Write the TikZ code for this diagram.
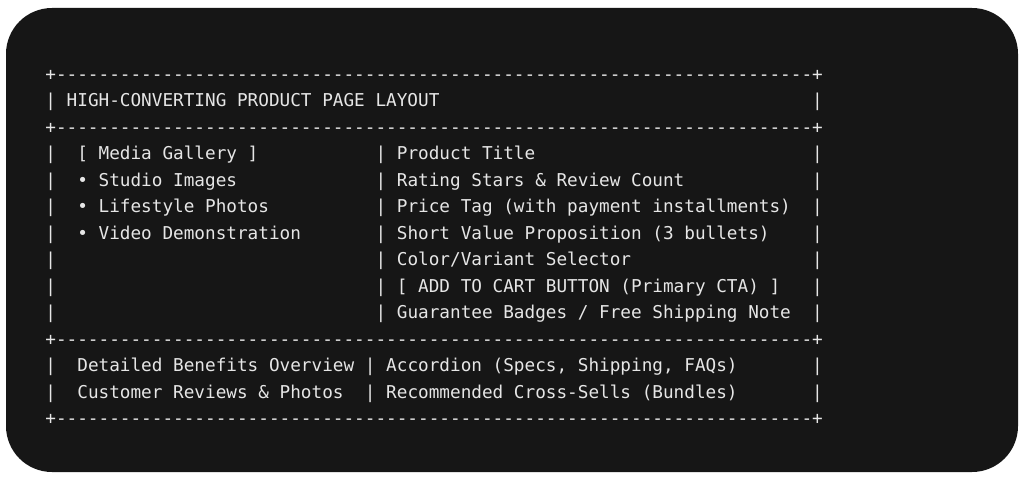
\documentclass[tikz,border=0pt]{standalone}
\usepackage{fontspec}
\setmonofont{DejaVu Sans Mono}
\definecolor{bgdark}{HTML}{161616}
\definecolor{ink}{HTML}{E6E6E6}
\newcommand\tendash{----------}
\newcommand\borderline{+\tendash\tendash\tendash\tendash\tendash\tendash\tendash-+}
\begin{document}
\begin{tikzpicture}[x=1pt,y=-1pt,
  txt/.style={anchor=base west, inner sep=0pt, outer sep=0pt, text=ink,
    font=\ttfamily\fontsize{17.69}{20}\selectfont}]
\def\cw{10.65}
\def\xo{45.4}
\useasboundingbox (0,0) rectangle (1024,478);
\fill[white] (0,0) rectangle (1024,478);
\fill[bgdark, rounded corners=46pt] (6,8) rectangle (1018,472);
% borders
\node[txt] (top)  at (\xo,80.3)  {\borderline};
\node[txt] (sep1) at (\xo,133.3) {\borderline};
\node[txt] (sep2) at (\xo,345.3) {\borderline};
\node[txt] (bot)  at (\xo,424.8) {\borderline};
% title row
\node[txt] (tl) at (\xo,106.8) {|};
\node[txt] (title) at ({\xo+2*\cw},106.8) {HIGH-CONVERTING PRODUCT PAGE LAYOUT};
\node[txt] (tr) at ({\xo+72*\cw},106.8) {|};
% middle section bars
\foreach \i/\yy in {1/159.8,2/186.3,3/212.8,4/239.3,5/265.8,6/292.3,7/318.8}{
  \node[txt] (ml\i) at (\xo,\yy) {|};
  \node[txt] (mm\i) at ({\xo+31*\cw},\yy) {|};
  \node[txt] (mr\i) at ({\xo+72*\cw},\yy) {|};
}
% left column
\node[txt] (gal)  at ({\xo+3*\cw},159.8) {[ Media Gallery ]};
\node[txt] (stu)  at ({\xo+3*\cw},186.3) {• Studio Images};
\node[txt] (life) at ({\xo+3*\cw},212.8) {• Lifestyle Photos};
\node[txt] (vid)  at ({\xo+3*\cw},239.3) {• Video Demonstration};
% right column
\node[txt] (pt)   at ({\xo+33*\cw},159.8) {Product Title};
\node[txt] (rs)   at ({\xo+33*\cw},186.3) {Rating Stars \& Review Count};
\node[txt] (pr)   at ({\xo+33*\cw},212.8) {Price Tag (with payment installments)};
\node[txt] (svp)  at ({\xo+33*\cw},239.3) {Short Value Proposition (3 bullets)};
\node[txt] (col)  at ({\xo+33*\cw},265.8) {Color/Variant Selector};
\node[txt] (cta)  at ({\xo+33*\cw},292.3) {[ ADD TO CART BUTTON (Primary CTA) ]};
\node[txt] (gua)  at ({\xo+33*\cw},318.8) {Guarantee Badges / Free Shipping Note};
% bottom section
\foreach \i/\yy in {1/371.8,2/398.3}{
  \node[txt] (bl\i) at (\xo,\yy) {|};
  \node[txt] (bm\i) at ({\xo+30*\cw},\yy) {|};
  \node[txt] (br\i) at ({\xo+72*\cw},\yy) {|};
}
\node[txt] (ben) at ({\xo+3*\cw},371.8) {Detailed Benefits Overview};
\node[txt] (acc) at ({\xo+32*\cw},371.8) {Accordion (Specs, Shipping, FAQs)};
\node[txt] (rev) at ({\xo+3*\cw},398.3) {Customer Reviews \& Photos};
\node[txt] (xs)  at ({\xo+32*\cw},398.3) {Recommended Cross-Sells (Bundles)};
\end{tikzpicture}
\end{document}
